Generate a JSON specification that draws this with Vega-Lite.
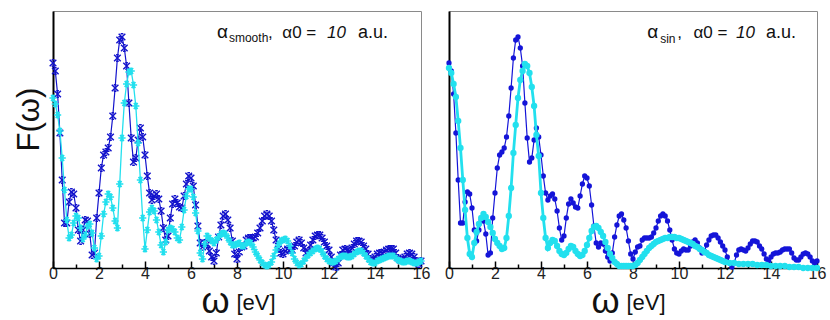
{
  "$schema": "https://vega.github.io/schema/vega-lite/v6.json",
  "padding": {"left": 12, "top": 10, "right": 5, "bottom": 0},
  "background": "white",
  "config": {
    "view": {"stroke": "#8a8a8a", "strokeWidth": 1},
    "font": "Liberation Sans"
  },
  "datasets": {
    "blue": [
      {"x":0.0,"y":205},{"x":0.1,"y":197},{"x":0.2,"y":174},{"x":0.3,"y":135},{"x":0.4,"y":88},{"x":0.5,"y":45},{"x":0.6,"y":45},{"x":0.7,"y":66},{"x":0.8,"y":76},{"x":0.9,"y":74},
      {"x":1.0,"y":60},{"x":1.1,"y":38},{"x":1.2,"y":27},{"x":1.3,"y":38},{"x":1.4,"y":48},{"x":1.5,"y":47},{"x":1.6,"y":34},{"x":1.7,"y":13},{"x":1.8,"y":15},{"x":1.9,"y":50},
      {"x":2.0,"y":75},{"x":2.1,"y":100},{"x":2.2,"y":113},{"x":2.3,"y":116},{"x":2.4,"y":120},{"x":2.5,"y":131},{"x":2.6,"y":152},{"x":2.7,"y":180},{"x":2.8,"y":210},{"x":2.9,"y":228},
      {"x":3.0,"y":231},{"x":3.1,"y":220},{"x":3.2,"y":202},{"x":3.3,"y":165},{"x":3.4,"y":130},{"x":3.5,"y":106},{"x":3.6,"y":110},{"x":3.7,"y":128},{"x":3.8,"y":140},{"x":3.9,"y":131},
      {"x":4.0,"y":113},{"x":4.1,"y":92},{"x":4.2,"y":75},{"x":4.3,"y":68},{"x":4.4,"y":72},{"x":4.5,"y":74},{"x":4.6,"y":69},{"x":4.7,"y":57},{"x":4.8,"y":40},{"x":4.9,"y":28},
      {"x":5.0,"y":32},{"x":5.1,"y":50},{"x":5.2,"y":64},{"x":5.3,"y":69},{"x":5.4,"y":65},{"x":5.5,"y":61},{"x":5.6,"y":60},{"x":5.7,"y":72},{"x":5.8,"y":84},{"x":5.9,"y":92},
      {"x":6.0,"y":90},{"x":6.1,"y":82},{"x":6.2,"y":63},{"x":6.3,"y":42},{"x":6.4,"y":25},{"x":6.5,"y":21},{"x":6.6,"y":25},{"x":6.7,"y":24},{"x":6.8,"y":17},{"x":6.9,"y":11},
      {"x":7.0,"y":7},{"x":7.1,"y":15},{"x":7.2,"y":31},{"x":7.3,"y":43},{"x":7.4,"y":52},{"x":7.5,"y":54},{"x":7.6,"y":48},{"x":7.7,"y":40},{"x":7.8,"y":27},{"x":7.9,"y":14},
      {"x":8.0,"y":9},{"x":8.1,"y":16},{"x":8.2,"y":21},{"x":8.3,"y":22},{"x":8.4,"y":28},{"x":8.5,"y":30},{"x":8.6,"y":30},{"x":8.7,"y":30},{"x":8.8,"y":31},{"x":8.9,"y":35},
      {"x":9.0,"y":40},{"x":9.1,"y":47},{"x":9.2,"y":52},{"x":9.3,"y":54},{"x":9.4,"y":52},{"x":9.5,"y":47},{"x":9.6,"y":38},{"x":9.7,"y":28},{"x":9.8,"y":19},{"x":9.9,"y":15},
      {"x":10.0,"y":14},{"x":10.1,"y":17},{"x":10.2,"y":19},{"x":10.3,"y":18},{"x":10.4,"y":18},{"x":10.5,"y":22},{"x":10.6,"y":26},{"x":10.7,"y":28},{"x":10.8,"y":25},{"x":10.9,"y":20},
      {"x":11.0,"y":15},{"x":11.1,"y":17},{"x":11.2,"y":23},{"x":11.3,"y":28},{"x":11.4,"y":32},{"x":11.5,"y":33},{"x":11.6,"y":33},{"x":11.7,"y":30},{"x":11.8,"y":26},{"x":11.9,"y":22},
      {"x":12.0,"y":18},{"x":12.1,"y":11},{"x":12.2,"y":5},{"x":12.3,"y":1},{"x":12.4,"y":5},{"x":12.5,"y":13},{"x":12.6,"y":18},{"x":12.7,"y":19},{"x":12.8,"y":18},{"x":12.9,"y":17},
      {"x":13.0,"y":20},{"x":13.1,"y":24},{"x":13.2,"y":27},{"x":13.3,"y":27},{"x":13.4,"y":26},{"x":13.5,"y":22},{"x":13.6,"y":19},{"x":13.7,"y":14},{"x":13.8,"y":9},{"x":13.9,"y":7},
      {"x":14.0,"y":11},{"x":14.1,"y":14},{"x":14.2,"y":15},{"x":14.3,"y":15},{"x":14.4,"y":16},{"x":14.5,"y":18},{"x":14.6,"y":19},{"x":14.7,"y":19},{"x":14.8,"y":19},{"x":14.9,"y":15},
      {"x":15.0,"y":10},{"x":15.1,"y":8},{"x":15.2,"y":8},{"x":15.3,"y":11},{"x":15.4,"y":14},{"x":15.5,"y":15},{"x":15.6,"y":14},{"x":15.7,"y":11},{"x":15.8,"y":7},{"x":15.9,"y":4},
      {"x":16.0,"y":7}
    ],
    "cyanL": [
      {"x":0.0,"y":170},{"x":0.1,"y":164},{"x":0.2,"y":153},{"x":0.3,"y":137},{"x":0.4,"y":110},{"x":0.5,"y":78},{"x":0.6,"y":48},{"x":0.7,"y":30},{"x":0.8,"y":33},{"x":0.9,"y":45},
      {"x":1.0,"y":52},{"x":1.1,"y":50},{"x":1.2,"y":40},{"x":1.3,"y":29},{"x":1.4,"y":33},{"x":1.5,"y":42},{"x":1.6,"y":44},{"x":1.7,"y":35},{"x":1.8,"y":20},{"x":1.9,"y":9},
      {"x":2.0,"y":12},{"x":2.1,"y":32},{"x":2.2,"y":54},{"x":2.3,"y":66},{"x":2.4,"y":74},{"x":2.5,"y":71},{"x":2.6,"y":60},{"x":2.7,"y":47},{"x":2.8,"y":40},{"x":2.9,"y":84},
      {"x":3.0,"y":130},{"x":3.1,"y":165},{"x":3.2,"y":184},{"x":3.3,"y":196},{"x":3.4,"y":197},{"x":3.5,"y":183},{"x":3.6,"y":162},{"x":3.7,"y":125},{"x":3.8,"y":88},{"x":3.9,"y":50},
      {"x":4.0,"y":19},{"x":4.1,"y":38},{"x":4.2,"y":56},{"x":4.3,"y":60},{"x":4.4,"y":57},{"x":4.5,"y":48},{"x":4.6,"y":36},{"x":4.7,"y":23},{"x":4.8,"y":16},{"x":4.9,"y":26},
      {"x":5.0,"y":38},{"x":5.1,"y":40},{"x":5.2,"y":39},{"x":5.3,"y":36},{"x":5.4,"y":30},{"x":5.5,"y":28},{"x":5.6,"y":41},{"x":5.7,"y":58},{"x":5.8,"y":72},{"x":5.9,"y":79},
      {"x":6.0,"y":79},{"x":6.1,"y":71},{"x":6.2,"y":55},{"x":6.3,"y":37},{"x":6.4,"y":15},{"x":6.5,"y":9},{"x":6.6,"y":24},{"x":6.7,"y":32},{"x":6.8,"y":30},{"x":6.9,"y":27},
      {"x":7.0,"y":25},{"x":7.1,"y":28},{"x":7.2,"y":31},{"x":7.3,"y":34},{"x":7.4,"y":35},{"x":7.5,"y":34},{"x":7.6,"y":30},{"x":7.7,"y":26},{"x":7.8,"y":23},{"x":7.9,"y":23},
      {"x":8.0,"y":24},{"x":8.1,"y":25},{"x":8.2,"y":22},{"x":8.3,"y":22},{"x":8.4,"y":25},{"x":8.5,"y":26},{"x":8.6,"y":25},{"x":8.7,"y":21},{"x":8.8,"y":16},{"x":8.9,"y":12},
      {"x":9.0,"y":8},{"x":9.1,"y":5},{"x":9.2,"y":3},{"x":9.3,"y":2},{"x":9.4,"y":3},{"x":9.5,"y":6},{"x":9.6,"y":12},{"x":9.7,"y":18},{"x":9.8,"y":23},{"x":9.9,"y":27},
      {"x":10.0,"y":28},{"x":10.1,"y":29},{"x":10.2,"y":27},{"x":10.3,"y":22},{"x":10.4,"y":15},{"x":10.5,"y":9},{"x":10.6,"y":5},{"x":10.7,"y":3},{"x":10.8,"y":4},{"x":10.9,"y":7},
      {"x":11.0,"y":10},{"x":11.1,"y":13},{"x":11.2,"y":15},{"x":11.3,"y":17},{"x":11.4,"y":19},{"x":11.5,"y":20},{"x":11.6,"y":19},{"x":11.7,"y":16},{"x":11.8,"y":12},{"x":11.9,"y":9},
      {"x":12.0,"y":7},{"x":12.1,"y":6},{"x":12.2,"y":6},{"x":12.3,"y":7},{"x":12.4,"y":9},{"x":12.5,"y":11},{"x":12.6,"y":12},{"x":12.7,"y":12},{"x":12.8,"y":11},{"x":12.9,"y":11},
      {"x":13.0,"y":12},{"x":13.1,"y":14},{"x":13.2,"y":16},{"x":13.3,"y":17},{"x":13.4,"y":17},{"x":13.5,"y":15},{"x":13.6,"y":12},{"x":13.7,"y":9},{"x":13.8,"y":6},{"x":13.9,"y":5},
      {"x":14.0,"y":5},{"x":14.1,"y":7},{"x":14.2,"y":8},{"x":14.3,"y":9},{"x":14.4,"y":10},{"x":14.5,"y":11},{"x":14.6,"y":12},{"x":14.7,"y":12},{"x":14.8,"y":12},{"x":14.9,"y":10},
      {"x":15.0,"y":8},{"x":15.1,"y":7},{"x":15.2,"y":6},{"x":15.3,"y":6},{"x":15.4,"y":7},{"x":15.5,"y":7},{"x":15.6,"y":6},{"x":15.7,"y":5},{"x":15.8,"y":5},{"x":15.9,"y":6},
      {"x":16.0,"y":7}
    ],
    "cyanR": [
      {"x":0.0,"y":200},{"x":0.1,"y":195},{"x":0.2,"y":184},{"x":0.3,"y":171},{"x":0.4,"y":147},{"x":0.5,"y":120},{"x":0.6,"y":88},{"x":0.7,"y":58},{"x":0.8,"y":30},{"x":0.9,"y":14},
      {"x":1.0,"y":11},{"x":1.1,"y":25},{"x":1.2,"y":36},{"x":1.3,"y":44},{"x":1.4,"y":50},{"x":1.5,"y":54},{"x":1.6,"y":51},{"x":1.7,"y":46},{"x":1.8,"y":41},{"x":1.9,"y":35},
      {"x":2.0,"y":29},{"x":2.1,"y":25},{"x":2.2,"y":22},{"x":2.3,"y":19},{"x":2.4,"y":20},{"x":2.5,"y":30},{"x":2.6,"y":52},{"x":2.7,"y":80},{"x":2.8,"y":115},{"x":2.9,"y":143},
      {"x":3.0,"y":170},{"x":3.1,"y":188},{"x":3.2,"y":197},{"x":3.3,"y":204},{"x":3.4,"y":202},{"x":3.5,"y":195},{"x":3.6,"y":181},{"x":3.7,"y":162},{"x":3.8,"y":133},{"x":3.9,"y":112},
      {"x":4.0,"y":75},{"x":4.1,"y":50},{"x":4.2,"y":30},{"x":4.3,"y":20},{"x":4.4,"y":25},{"x":4.5,"y":28},{"x":4.6,"y":27},{"x":4.7,"y":22},{"x":4.8,"y":17},{"x":4.9,"y":14},
      {"x":5.0,"y":13},{"x":5.1,"y":15},{"x":5.2,"y":19},{"x":5.3,"y":22},{"x":5.4,"y":21},{"x":5.5,"y":17},{"x":5.6,"y":14},{"x":5.7,"y":12},{"x":5.8,"y":13},{"x":5.9,"y":17},
      {"x":6.0,"y":23},{"x":6.1,"y":30},{"x":6.2,"y":37},{"x":6.3,"y":41},{"x":6.4,"y":42},{"x":6.5,"y":40},{"x":6.6,"y":36},{"x":6.7,"y":32},{"x":6.8,"y":26},{"x":6.9,"y":20},
      {"x":7.0,"y":14},{"x":7.1,"y":10},{"x":7.2,"y":6},{"x":7.3,"y":4},{"x":7.4,"y":2},{"x":7.5,"y":2},{"x":7.6,"y":2},{"x":7.7,"y":2},{"x":7.8,"y":2},{"x":7.9,"y":2},
      {"x":8.0,"y":2},{"x":8.1,"y":3},{"x":8.2,"y":5},{"x":8.3,"y":8},{"x":8.4,"y":11},{"x":8.5,"y":14},{"x":8.6,"y":17},{"x":8.7,"y":20},{"x":8.8,"y":22},{"x":8.9,"y":24},
      {"x":9.0,"y":26},{"x":9.1,"y":27},{"x":9.2,"y":28},{"x":9.3,"y":29},{"x":9.4,"y":30},{"x":9.5,"y":30},{"x":9.6,"y":31},{"x":9.7,"y":31},{"x":9.8,"y":31},{"x":9.9,"y":30},
      {"x":10.0,"y":30},{"x":10.1,"y":29},{"x":10.2,"y":28},{"x":10.3,"y":27},{"x":10.4,"y":26},{"x":10.5,"y":25},{"x":10.6,"y":24},{"x":10.7,"y":22},{"x":10.8,"y":21},{"x":10.9,"y":19},
      {"x":11.0,"y":18},{"x":11.1,"y":16},{"x":11.2,"y":15},{"x":11.3,"y":13},{"x":11.4,"y":12},{"x":11.5,"y":11},{"x":11.6,"y":10},{"x":11.7,"y":9},{"x":11.8,"y":8},{"x":11.9,"y":7},
      {"x":12.0,"y":6},{"x":12.2,"y":5},{"x":12.4,"y":5},{"x":12.6,"y":4},{"x":12.8,"y":4},{"x":13.0,"y":4},{"x":13.2,"y":4},{"x":13.4,"y":3},{"x":13.6,"y":3},{"x":13.8,"y":3},
      {"x":14.0,"y":2},{"x":14.2,"y":2},{"x":14.4,"y":2},{"x":14.6,"y":2},{"x":14.8,"y":1},{"x":15.0,"y":1},{"x":15.2,"y":1},{"x":15.4,"y":0},{"x":15.6,"y":0},{"x":15.8,"y":0},
      {"x":16.0,"y":0}
    ]
  },
  "hconcat": [
    {
      "width": 368,
      "height": 257,
      "title": {"text": "[eV]", "orient": "bottom", "anchor": "middle", "dx": 19, "offset": -26, "fontSize": 22, "fontWeight": "normal", "color": "#111", "font": "Liberation Sans"},
      "encoding": {
        "x": {"field": "x", "type": "quantitative", "scale": {"domain": [0, 16], "nice": false},
          "axis": {"values": [0,1,2,3,4,5,6,7,8,9,10,11,12,13,14,15,16], "labelExpr": "datum.value % 2 == 0 ? datum.label : ''", "labelOverlap": false, "labelFlush": false,
            "tickSize": {"condition": {"test": "datum.value % 2 != 0", "value": -4}, "value": -7},
            "tickColor": "#000", "tickWidth": 1.5, "domainColor": "#000", "domainWidth": 1.5, "grid": false,
            "labelFontSize": 16, "labelColor": "#222", "labelPadding": 4, "labelFont": "Liberation Sans",
            "title": "ω", "titleFontSize": 36, "titleFontWeight": "normal", "titleColor": "#111", "titleFont": "Liberation Sans",
            "titleX": 162, "titleY": 44, "titleBaseline": "alphabetic", "titleAlign": "center"}},
        "y": {"field": "y", "type": "quantitative", "scale": {"domain": [0, 257], "nice": false},
          "axis": {"labels": false, "ticks": false, "grid": false, "domainColor": "#000", "domainWidth": 2,
            "title": "F(ω)", "titleFontSize": 31, "titleFontWeight": "normal", "titleColor": "#111", "titleFont": "Liberation Sans",
            "titleX": -24, "titleY": 108, "titleAngle": -90, "titleAlign": "center", "titleBaseline": "middle"}}
      },
      "layer": [
        {"data": {"name": "blue"}, "mark": {"type": "line", "color": "#1212cc", "strokeWidth": 1.2}},
        {"data": {"name": "blue"}, "mark": {"type": "point", "shape": "M-1,-1L1,1M-1,1L1,-1M-0.4,-1L0.4,-1M-0.4,1L0.4,1", "filled": false, "color": "#1212cc", "strokeWidth": 1.4, "size": 44, "opacity": 1}},
        {"data": {"name": "cyanL"}, "mark": {"type": "line", "color": "#22e0ee", "strokeWidth": 1.3}},
        {"data": {"name": "cyanL"}, "mark": {"type": "point", "shape": "M-1,0L1,0M-0.5,-0.87L0.5,0.87M-0.5,0.87L0.5,-0.87M0,-1L0,1", "filled": false, "color": "#22e0ee", "strokeWidth": 1.6, "size": 52, "opacity": 1}},
        {"data": {"name": "blue"}, "transform": [{"filter": "datum.x == 0"}], "mark": {"type": "text", "text": "α", "align": "left", "baseline": "alphabetic", "fontSize": 19, "color": "#111", "font": "Liberation Sans"}, "encoding": {"x": {"datum": 7.13}, "y": {"datum": 230}}},
        {"data": {"name": "blue"}, "transform": [{"filter": "datum.x == 0"}], "mark": {"type": "text", "text": "smooth", "align": "left", "baseline": "alphabetic", "fontSize": 12, "color": "#111", "font": "Liberation Sans"}, "encoding": {"x": {"datum": 7.65}, "y": {"datum": 226}}},
        {"data": {"name": "blue"}, "transform": [{"filter": "datum.x == 0"}], "mark": {"type": "text", "text": ",", "align": "left", "baseline": "alphabetic", "fontSize": 17, "color": "#111", "font": "Liberation Sans"}, "encoding": {"x": {"datum": 9.35}, "y": {"datum": 230}}},
        {"data": {"name": "blue"}, "transform": [{"filter": "datum.x == 0"}], "mark": {"type": "text", "text": "α0 =", "align": "left", "baseline": "alphabetic", "fontSize": 17, "color": "#111", "font": "Liberation Sans"}, "encoding": {"x": {"datum": 9.97}, "y": {"datum": 230}}},
        {"data": {"name": "blue"}, "transform": [{"filter": "datum.x == 0"}], "mark": {"type": "text", "text": "10", "align": "left", "baseline": "alphabetic", "fontSize": 17, "fontStyle": "italic", "color": "#111", "font": "Liberation Sans"}, "encoding": {"x": {"datum": 11.91}, "y": {"datum": 230}}},
        {"data": {"name": "blue"}, "transform": [{"filter": "datum.x == 0"}], "mark": {"type": "text", "text": "a.u.", "align": "left", "baseline": "alphabetic", "fontSize": 18, "color": "#111", "font": "Liberation Sans"}, "encoding": {"x": {"datum": 13.26}, "y": {"datum": 230}}}
      ]
    },
    {
      "width": 368,
      "height": 257,
      "title": {"text": "[eV]", "orient": "bottom", "anchor": "middle", "dx": 13, "offset": -26, "fontSize": 22, "fontWeight": "normal", "color": "#111", "font": "Liberation Sans"},
      "encoding": {
        "x": {"field": "x", "type": "quantitative", "scale": {"domain": [0, 16], "nice": false},
          "axis": {"values": [0,1,2,3,4,5,6,7,8,9,10,11,12,13,14,15,16], "labelExpr": "datum.value % 2 == 0 ? datum.label : ''", "labelOverlap": false, "labelFlush": false,
            "tickSize": {"condition": {"test": "datum.value % 2 != 0", "value": -4}, "value": -7},
            "tickColor": "#000", "tickWidth": 1.5, "domainColor": "#000", "domainWidth": 1.5, "grid": false,
            "labelFontSize": 16, "labelColor": "#222", "labelPadding": 4, "labelFont": "Liberation Sans",
            "title": "ω", "titleFontSize": 36, "titleFontWeight": "normal", "titleColor": "#111", "titleFont": "Liberation Sans",
            "titleX": 156, "titleY": 44, "titleBaseline": "alphabetic", "titleAlign": "center"}},
        "y": {"field": "y", "type": "quantitative", "scale": {"domain": [0, 257], "nice": false},
          "axis": {"labels": false, "ticks": false, "grid": false, "domainColor": "#000", "domainWidth": 2, "title": null}}
      },
      "layer": [
        {"data": {"name": "blue"}, "mark": {"type": "line", "color": "#1414d8", "strokeWidth": 1.2}},
        {"data": {"name": "blue"}, "mark": {"type": "point", "shape": "circle", "filled": true, "color": "#1414d8", "size": 28, "opacity": 1}},
        {"data": {"name": "cyanR"}, "mark": {"type": "line", "color": "#22e0ee", "strokeWidth": 2.8}},
        {"data": {"name": "cyanR"}, "mark": {"type": "point", "shape": "circle", "filled": true, "color": "#22e0ee", "size": 40, "opacity": 1}},
        {"data": {"name": "blue"}, "transform": [{"filter": "datum.x == 0"}], "mark": {"type": "text", "text": "α", "align": "left", "baseline": "alphabetic", "fontSize": 19, "color": "#111", "font": "Liberation Sans"}, "encoding": {"x": {"datum": 8.62}, "y": {"datum": 230}}},
        {"data": {"name": "blue"}, "transform": [{"filter": "datum.x == 0"}], "mark": {"type": "text", "text": "sin", "align": "left", "baseline": "alphabetic", "fontSize": 12, "color": "#111", "font": "Liberation Sans"}, "encoding": {"x": {"datum": 9.18}, "y": {"datum": 225}}},
        {"data": {"name": "blue"}, "transform": [{"filter": "datum.x == 0"}], "mark": {"type": "text", "text": ",", "align": "left", "baseline": "alphabetic", "fontSize": 17, "color": "#111", "font": "Liberation Sans"}, "encoding": {"x": {"datum": 9.92}, "y": {"datum": 230}}},
        {"data": {"name": "blue"}, "transform": [{"filter": "datum.x == 0"}], "mark": {"type": "text", "text": "α0 =", "align": "left", "baseline": "alphabetic", "fontSize": 17, "color": "#111", "font": "Liberation Sans"}, "encoding": {"x": {"datum": 10.63}, "y": {"datum": 230}}},
        {"data": {"name": "blue"}, "transform": [{"filter": "datum.x == 0"}], "mark": {"type": "text", "text": "10", "align": "left", "baseline": "alphabetic", "fontSize": 17, "fontStyle": "italic", "color": "#111", "font": "Liberation Sans"}, "encoding": {"x": {"datum": 12.48}, "y": {"datum": 230}}},
        {"data": {"name": "blue"}, "transform": [{"filter": "datum.x == 0"}], "mark": {"type": "text", "text": "a.u.", "align": "left", "baseline": "alphabetic", "fontSize": 18, "color": "#111", "font": "Liberation Sans"}, "encoding": {"x": {"datum": 13.78}, "y": {"datum": 230}}}
      ]
    }
  ],
  "spacing": 28,
  "bounds": "flush"
}
